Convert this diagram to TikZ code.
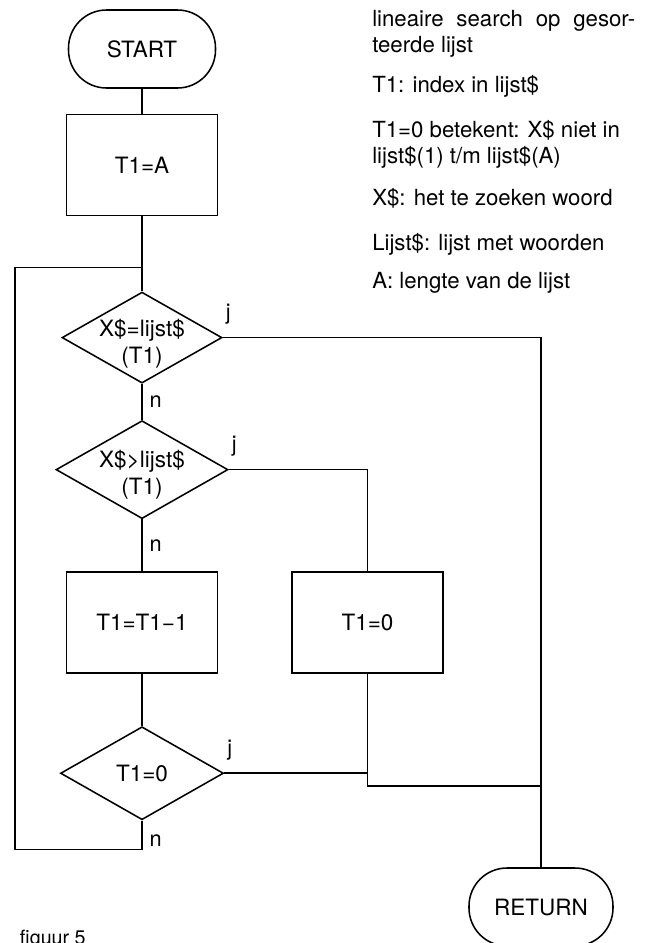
\documentclass[tikz,border=0pt]{standalone}
\usepackage{fontspec}
\setmainfont{TeX Gyre Heros}
\usepackage{tikz}
\usetikzlibrary{
  shapes.geometric,
  positioning,
  calc
}
\tikzset{
  term/.style = {
    rectangle, rounded corners=0.95cm,
    draw, line width=1.1pt,
    minimum width=#1, minimum height=1.95cm,
    font=\fontsize{16}{19}\selectfont
  },
  term/.default = 3.675cm,
  block/.style = {
    rectangle, draw, line width=1.1pt,
    minimum width=3.775cm, minimum height=2.525cm,
    font=\fontsize{16}{19}\selectfont
  },
  decision/.style = {
    diamond, draw, line width=1.1pt, inner sep=0pt
  },
  qtext/.style = {align=center, inner sep=0pt, font=\fontsize{16}{19.5}\selectfont},
  yn/.style    = {font=\fontsize{15.5}{18}\selectfont, inner sep=2pt},
  note/.style  = {anchor=north west, align=left, inner sep=0pt,
                  font=\fontsize{15.8}{18.6}\selectfont},
  line/.style  = {draw, line width=1.1pt},
}

\begin{document}
\begin{tikzpicture}
  \useasboundingbox (0,0) rectangle (16.3,-23.575);

  % hoofdkolom
  \node[term] (start) at (3.55,-1.225) {START};
  \node[block, below=0.625cm of start] (init) {T1=A};
  \node[decision, minimum width=4cm, minimum height=2.275cm,
        below=1.875cm of init] (q1) {};
  \node[decision, minimum width=4.3cm, minimum height=2.45cm,
        below=0.9cm of q1] (q2) {};
  \node[block, below=1.3cm of q2] (dec) {T1=T1−1};
  \node[decision, minimum width=4.075cm, minimum height=2.325cm,
        below=1.3cm of dec] (q3) {};
  \node[block, right=1.825cm of dec] (zero) {T1=0};
  \node[term=3.6cm] (ret) at (13.525,-22.675) {RETURN};

  % teksten in de ruiten
  \node[qtext] (q1txt) at ([yshift=-0.15cm]q1.center) {X\$=lijst\$\\(T1)};
  \node[qtext] (q2txt) at ([yshift=-0.125cm]q2.center) {X\$>lijst\$\\(T1)};
  \node[qtext] (q3txt) at (q3.center) {T1=0};

  % verbindingen
  \coordinate (lp)  at ($(init.south)+(0,-1.275)$);
  \coordinate (lpl) at ($(lp)+(-3.175,0)$);
  \coordinate (jn)  at ($(zero.south)+(0,-2.8)$);

  \draw[line] (start) -- (init);
  \draw[line] (init) -- (q1);
  \draw[line] (q1) -- node[yn, right, xshift=0.1cm] {n} (q2);
  \draw[line] (q2) -- node[yn, right, xshift=0.1cm] {n} (dec);
  \draw[line] (dec) -- (q3);
  \draw[line] (q1.east) -| (ret.north);
  \draw[line] (q2.east) -| (zero.north);
  \draw[line] (zero) -- (jn) -- (jn -| ret.north);
  \draw[line] (q3.east) -- (q3.east -| zero.south);
  \draw[line] (q3.south) -- node[yn, right, xshift=0.1cm, pos=0.7] {n}
              ++(0,-0.725) -| (lpl) -- (lp);

  \node[yn, above right, yshift=0.25cm] (j1) at (q1.east) {j};
  \node[yn, above right, yshift=0.25cm] (j2) at (q2.east) {j};
  \node[yn, above right, yshift=0.25cm] (j3) at (q3.east) {j};

  % toelichting
  \node[note] (note1) at (9.3,-0.25)
    {\makebox[6.575cm][s]{lineaire search op gesor-}\\teerde lijst};
  \node[note] (note2) at (9.3,-1.875) {T1: index in lijst\$};
  \node[note] (note3) at (9.3,-3.0)
    {T1=0 betekent: X\$ niet in\\lijst\$(1) t/m lijst\$(A)};
  \node[note] (note4) at (9.3,-4.7) {X\$: het te zoeken woord};
  \node[note] (note5) at (9.3,-5.825) {Lijst\$: lijst met woorden};
  \node[note] (note6) at (9.3,-6.8) {A: lengte van de lijst};

  \node[anchor=base west, font=\fontsize{14}{16}\selectfont] (cap)
    at (0.375,-23.6) {figuur 5};
\end{tikzpicture}
\end{document}
